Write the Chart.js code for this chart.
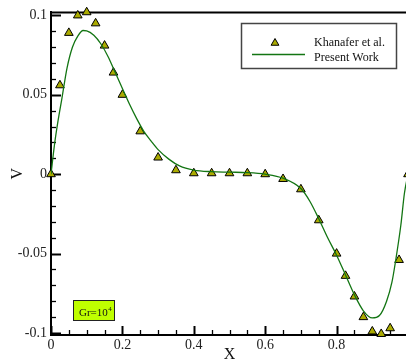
<!DOCTYPE html>
<html>
<head>
<meta charset="utf-8">
<script src="https://cdn.jsdelivr.net/npm/chart.js@4.4.1/dist/chart.umd.min.js"></script>
<style>
  html, body { margin: 0; padding: 0; background: #fff; overflow: hidden; }
  #wrap { width: 414px; height: 363px; }
</style>
</head>
<body>
<div id="wrap"><canvas id="canvas" width="414" height="363"></canvas></div>
<script>
// Khanafer et al. (triangles)
const xKhanafer = [0, 0.025, 0.05, 0.075, 0.1, 0.125, 0.15, 0.175, 0.2, 0.25, 0.3, 0.35, 0.4, 0.45, 0.5, 0.55, 0.6, 0.65, 0.7, 0.75, 0.8, 0.825, 0.85, 0.875, 0.9, 0.925, 0.95, 0.975, 1.0]
const vKhanafer = [0, 0.056, 0.089, 0.1, 0.102, 0.095, 0.081, 0.064, 0.05, 0.027, 0.0105, 0.0025, 0.0006, 0.0006, 0.0006, 0.0006, 0, -0.003, -0.0095, -0.029, -0.05, -0.064, -0.077, -0.09, -0.099, -0.1006, -0.097, -0.054, 0]

// Present Work (line)
const xPresent = [0, 0.01, 0.02, 0.03, 0.045, 0.06, 0.075, 0.09, 0.1, 0.12, 0.14, 0.16, 0.18, 0.2, 0.22, 0.24, 0.26, 0.28, 0.3, 0.33, 0.36, 0.4, 0.45, 0.5, 0.55, 0.6, 0.65, 0.7, 0.725, 0.75, 0.775, 0.8, 0.825, 0.85, 0.875, 0.9, 0.92, 0.94, 0.955, 0.965, 0.98, 0.99, 1.0]
const vPresent = [0, 0.019, 0.034, 0.047, 0.067, 0.080, 0.087, 0.0905, 0.0903, 0.0875, 0.082, 0.074, 0.064, 0.054, 0.044, 0.035, 0.027, 0.021, 0.0155, 0.0095, 0.0052, 0.0026, 0.0016, 0.0013, 0.001, 0, -0.0025, -0.009, -0.017, -0.028, -0.040, -0.051, -0.0635, -0.076, -0.086, -0.0905, -0.089, -0.080, -0.068, -0.055, -0.032, -0.012, 0]

const xTicks = [0, 0.2, 0.4, 0.6, 0.8]
const yTicks = [-0.1, -0.05, 0, 0.05, 0.1]
const yTickLabels = ['-0.1', '-0.05', '0', '0.05', '0.1']

const serif = "'Liberation Serif', 'DejaVu Serif', serif"
const lineColor = '#137513'
const markerColor = '#abab00'

const toPoints = (xs, ys) => xs.map((x, i) => ({x: x, y: ys[i]}))

// frame, inward ticks, legend box and Gr label
const decor = {
    id: 'decor',
    beforeDraw(chart) {
        const ctx = chart.ctx
        ctx.save()
        ctx.fillStyle = '#fff'
        ctx.fillRect(0, 0, chart.width, chart.height)
        ctx.restore()
    },
    beforeDatasetsDraw(chart) {
        const {ctx, chartArea: a, scales: {x, y}} = chart
        ctx.save()
        ctx.strokeStyle = '#000'
        ctx.lineWidth = 2
        ctx.beginPath()
        ctx.moveTo(a.left, a.top)
        ctx.lineTo(a.right, a.top)
        ctx.lineTo(a.right, a.bottom)
        ctx.stroke()
        for (let i = 0; i <= 20; i++) {
            const px = Math.round(x.getPixelForValue(i * 0.05)) + 0.5
            const major = i % 4 === 0
            ctx.lineWidth = major ? 2 : 1.3
            ctx.beginPath()
            ctx.moveTo(px, a.bottom)
            ctx.lineTo(px, a.bottom - (major ? 9 : 5))
            ctx.stroke()
        }
        for (let i = -10; i <= 10; i++) {
            const py = Math.round(y.getPixelForValue(i * 0.01)) + 0.5
            const major = i % 5 === 0
            ctx.lineWidth = major ? 2 : 1.3
            ctx.beginPath()
            ctx.moveTo(a.left, py)
            ctx.lineTo(a.left + (major ? 10 : 5), py)
            ctx.stroke()
        }
        ctx.restore()
    },
    afterDraw(chart) {
        const ctx = chart.ctx
        const sets = chart.data.datasets
        ctx.save()
        // legend
        ctx.fillStyle = '#fff'
        ctx.fillRect(241, 23, 155, 45)
        ctx.strokeStyle = '#444'
        ctx.lineWidth = 1.5
        ctx.strokeRect(241.5, 23.5, 155, 45)
        ctx.fillStyle = sets[1].backgroundColor
        ctx.strokeStyle = '#000'
        ctx.lineWidth = 1
        const tx = 275, ty = 43, r = 4.5
        ctx.beginPath()
        ctx.moveTo(tx, ty - r)
        ctx.lineTo(tx + r * 0.866, ty + r * 0.5)
        ctx.lineTo(tx - r * 0.866, ty + r * 0.5)
        ctx.closePath()
        ctx.fill()
        ctx.stroke()
        ctx.strokeStyle = sets[0].borderColor
        ctx.lineWidth = 1.3
        ctx.beginPath()
        ctx.moveTo(252, 54.5)
        ctx.lineTo(305, 54.5)
        ctx.stroke()
        ctx.fillStyle = '#111'
        ctx.font = '12px ' + serif
        ctx.textBaseline = 'alphabetic'
        ctx.fillText(sets[1].label, 314, 46)
        ctx.fillText(sets[0].label, 314, 61)
        // Gr label
        ctx.fillStyle = '#bfff00'
        ctx.fillRect(73, 300, 41, 20)
        ctx.strokeStyle = '#222'
        ctx.lineWidth = 1
        ctx.strokeRect(73.5, 300.5, 41, 20)
        ctx.fillStyle = '#111'
        ctx.font = '11px ' + serif
        ctx.fillText('Gr=10', 79, 316)
        const w = ctx.measureText('Gr=10').width
        ctx.font = '7px ' + serif
        ctx.fillText('4', 79 + w + 0.5, 311)
        ctx.restore()
    }
}

new Chart(document.getElementById('canvas'), {
    type: 'scatter',
    data: {
        datasets: [
            {
                label: 'Present Work',
                data: toPoints(xPresent, vPresent),
                showLine: true,
                borderColor: lineColor,
                borderWidth: 1.3,
                pointRadius: 0,
                cubicInterpolationMode: 'monotone',
                order: 0,
            },
            {
                label: 'Khanafer et al.',
                data: toPoints(xKhanafer, vKhanafer),
                showLine: false,
                pointStyle: 'triangle',
                pointRadius: 5,
                backgroundColor: markerColor,
                borderColor: '#000',
                borderWidth: 1,
                clip: false,
                order: 1,
            },
        ]
    },
    options: {
        responsive: false,
        animation: false,
        layout: {padding: {top: 10, right: 4, left: 0, bottom: 0}},
        plugins: {legend: {display: false}, tooltip: {enabled: false}},
        scales: {
            x: {
                type: 'linear',
                min: 0,
                max: 1,
                grid: {display: false, drawTicks: false},
                border: {display: true, color: '#000', width: 2},
                afterBuildTicks: (s) => { s.ticks = xTicks.map(v => ({value: v})) },
                afterFit: (s) => { s.height = 28 },
                ticks: {
                    padding: 2,
                    color: '#222',
                    font: {family: serif, size: 14},
                    maxRotation: 0,
                    callback: (v) => String(v),
                },
                title: {
                    display: true,
                    text: 'X',
                    color: '#111',
                    font: {family: serif, size: 16, lineHeight: 1},
                    padding: {top: -5, bottom: 0},
                },
            },
            y: {
                type: 'linear',
                min: -0.10125,
                max: 0.1019,
                grid: {display: false, drawTicks: false},
                border: {display: true, color: '#000', width: 2},
                afterBuildTicks: (s) => { s.ticks = yTicks.map(v => ({value: v})) },
                afterFit: (s) => { s.width = 51 },
                ticks: {
                    padding: 4,
                    color: '#222',
                    font: {family: serif, size: 14},
                    callback: (v) => yTickLabels[yTicks.indexOf(v)],
                },
                title: {
                    display: true,
                    text: 'V',
                    color: '#111',
                    font: {family: serif, size: 16, lineHeight: 1},
                    padding: {top: 10, bottom: 0},
                },
            }
        }
    },
    plugins: [decor]
})
</script>
</body>
</html>
